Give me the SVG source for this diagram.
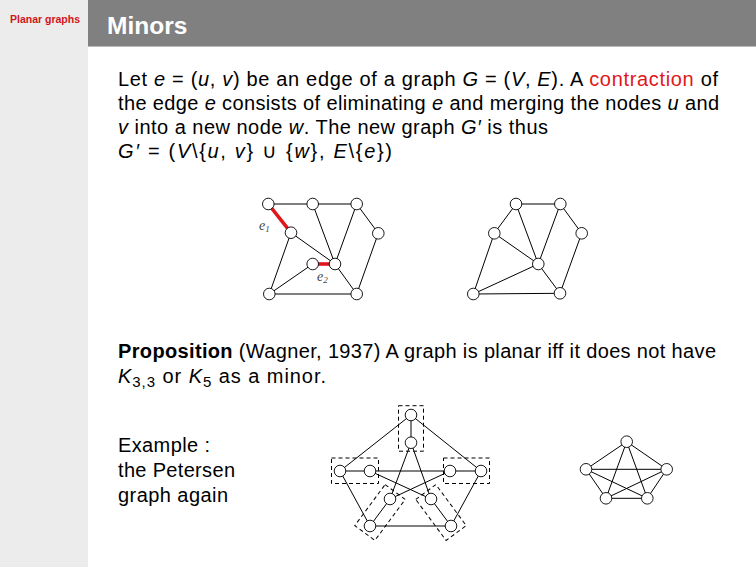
<svg xmlns="http://www.w3.org/2000/svg" width="756" height="567" viewBox="0 0 756 567">
<style>
.t{font-family:"Liberation Sans",Arial,sans-serif;font-size:20px;fill:#000}
.i{font-style:italic}
.red{fill:#e0161b}
.n{fill:#fff;stroke:#000;stroke-width:0.9}
.e{stroke:#000;stroke-width:1;fill:none}
.re{stroke:#e0161b;stroke-width:3.6;fill:none}
.box{fill:none;stroke:#000;stroke-width:1;stroke-dasharray:4,3}
.lab{font-family:"Liberation Serif","DejaVu Serif",serif;font-style:italic;font-size:14px;fill:#444}
</style>
<rect x="0" y="0" width="756" height="567" fill="#fff"/>
<rect x="0" y="0" width="88" height="567" fill="#ececec"/>
<rect x="88" y="0" width="668" height="46" fill="#808080"/>
<rect x="88" y="46" width="668" height="1" fill="#bbb"/>
<text x="10" y="22.5" font-family="Liberation Sans,Arial,sans-serif" font-weight="bold" font-size="10.5" fill="#d0161b">Planar graphs</text>
<text x="107" y="34" font-family="Liberation Sans,Arial,sans-serif" font-weight="bold" font-size="24.5" fill="#fff">Minors</text>

<g id="text-definition">
<text class="t" x="118" y="85.7" textLength="600" lengthAdjust="spacing">Let <tspan class="i">e</tspan> = (<tspan class="i">u</tspan>, <tspan class="i">v</tspan>) be an edge of a graph <tspan class="i">G</tspan> = (<tspan class="i">V</tspan>, <tspan class="i">E</tspan>). A <tspan class="red">contraction</tspan> of</text>
<text class="t" x="118" y="110" textLength="601" lengthAdjust="spacing">the edge <tspan class="i">e</tspan> consists of eliminating <tspan class="i">e</tspan> and merging the nodes <tspan class="i">u</tspan> and</text>
<text class="t" x="118" y="134" textLength="430" lengthAdjust="spacing"><tspan class="i">v</tspan> into a new node <tspan class="i">w</tspan>. The new graph <tspan class="i">G′</tspan> is thus</text>
<text class="t" x="118" y="158.3" textLength="274" lengthAdjust="spacing"><tspan class="i">G′</tspan> = (<tspan class="i">V</tspan>\{<tspan class="i">u</tspan>, <tspan class="i">v</tspan>} ∪ {<tspan class="i">w</tspan>}, <tspan class="i">E</tspan>\{<tspan class="i">e</tspan>})</text>
</g>

<g id="connectors">
<!-- graph 1 -->
<line class="e" x1="268.3" y1="204" x2="312.7" y2="204"/>
<line class="e" x1="312.7" y1="204" x2="356.7" y2="204"/>
<line class="e" x1="356.7" y1="204" x2="378.3" y2="233.3"/>
<line class="e" x1="378.3" y1="233.3" x2="356.7" y2="294"/>
<line class="e" x1="312.7" y1="204" x2="335" y2="264"/>
<line class="e" x1="356.7" y1="204" x2="335" y2="264"/>
<line class="e" x1="291" y1="232.7" x2="335" y2="264"/>
<line class="e" x1="291" y1="232.7" x2="269.3" y2="294"/>
<line class="e" x1="269.3" y1="294" x2="312.7" y2="264"/>
<line class="e" x1="335" y1="264" x2="356.7" y2="294"/>
<line class="e" x1="269.3" y1="294" x2="356.7" y2="294"/>
<line class="re" x1="268.3" y1="204" x2="291" y2="232.7"/>
<line class="re" x1="312.7" y1="264" x2="335" y2="264"/>
<!-- graph 2 -->
<line class="e" x1="516" y1="204" x2="560.3" y2="204"/>
<line class="e" x1="516" y1="204" x2="494.3" y2="233.3"/>
<line class="e" x1="516" y1="204" x2="538.3" y2="264"/>
<line class="e" x1="560.3" y1="204" x2="538.3" y2="264"/>
<line class="e" x1="560.3" y1="204" x2="581.7" y2="233.3"/>
<line class="e" x1="581.7" y1="233.3" x2="560" y2="293.3"/>
<line class="e" x1="494.3" y1="233.3" x2="538.3" y2="264"/>
<line class="e" x1="494.3" y1="233.3" x2="473.3" y2="294"/>
<line class="e" x1="473.3" y1="294" x2="538.3" y2="264"/>
<line class="e" x1="473.3" y1="294" x2="560" y2="293.3"/>
<line class="e" x1="538.3" y1="264" x2="560" y2="293.3"/>
<!-- Petersen -->
<line class="e" x1="411" y1="415" x2="340" y2="471"/>
<line class="e" x1="411" y1="415" x2="481" y2="471"/>
<line class="e" x1="340" y1="471" x2="370" y2="526"/>
<line class="e" x1="481" y1="471" x2="451" y2="526"/>
<line class="e" x1="370" y1="526" x2="451" y2="526"/>
<line class="e" x1="411" y1="415" x2="411" y2="442.7"/>
<line class="e" x1="340" y1="471" x2="370" y2="471"/>
<line class="e" x1="481" y1="471" x2="450" y2="471"/>
<line class="e" x1="370" y1="526" x2="390" y2="499"/>
<line class="e" x1="451" y1="526" x2="431" y2="499"/>
<line class="e" x1="411" y1="442.7" x2="390" y2="499"/>
<line class="e" x1="411" y1="442.7" x2="431" y2="499"/>
<line class="e" x1="370" y1="471" x2="450" y2="471"/>
<line class="e" x1="370" y1="471" x2="431" y2="499"/>
<line class="e" x1="450" y1="471" x2="390" y2="499"/>
<!-- K5 -->
<line class="e" x1="626.7" y1="441.7" x2="586" y2="469.3"/>
<line class="e" x1="626.7" y1="441.7" x2="666.7" y2="469.3"/>
<line class="e" x1="626.7" y1="441.7" x2="606" y2="498.3"/>
<line class="e" x1="626.7" y1="441.7" x2="647.3" y2="498.3"/>
<line class="e" x1="586" y1="469.3" x2="666.7" y2="469.3"/>
<line class="e" x1="586" y1="469.3" x2="606" y2="498.3"/>
<line class="e" x1="586" y1="469.3" x2="647.3" y2="498.3"/>
<line class="e" x1="666.7" y1="469.3" x2="606" y2="498.3"/>
<line class="e" x1="666.7" y1="469.3" x2="647.3" y2="498.3"/>
<line class="e" x1="606" y1="498.3" x2="647.3" y2="498.3"/>
</g>

<g id="graph1-nodes">
<circle class="n" cx="268.3" cy="204" r="5.8"/>
<circle class="n" cx="312.7" cy="204" r="5.8"/>
<circle class="n" cx="356.7" cy="204" r="5.8"/>
<circle class="n" cx="378.3" cy="233.3" r="5.8"/>
<circle class="n" cx="291" cy="232.7" r="5.8"/>
<circle class="n" cx="312.7" cy="264" r="5.8"/>
<circle class="n" cx="335" cy="264" r="5.8"/>
<circle class="n" cx="269.3" cy="294" r="5.8"/>
<circle class="n" cx="356.7" cy="294" r="5.8"/>
<text class="lab" x="259" y="230">e<tspan font-size="9" dy="2">1</tspan></text>
<text class="lab" x="317" y="281">e<tspan font-size="9" dy="2">2</tspan></text>
</g>

<g id="graph2-nodes">
<circle class="n" cx="516" cy="204" r="5.8"/>
<circle class="n" cx="560.3" cy="204" r="5.8"/>
<circle class="n" cx="494.3" cy="233.3" r="5.8"/>
<circle class="n" cx="581.7" cy="233.3" r="5.8"/>
<circle class="n" cx="538.3" cy="264" r="5.8"/>
<circle class="n" cx="473.3" cy="294" r="5.8"/>
<circle class="n" cx="560" cy="293.3" r="5.8"/>
</g>

<g id="text-proposition">
<text class="t" x="118" y="358.3" textLength="598" lengthAdjust="spacing"><tspan font-weight="bold">Proposition</tspan> (Wagner, 1937) A graph is planar iff it does not have</text>
<text class="t" x="118" y="383.3" textLength="208" lengthAdjust="spacing"><tspan class="i">K</tspan><tspan font-size="15" dy="4">3,3</tspan><tspan dy="-4"> or </tspan><tspan class="i">K</tspan><tspan font-size="15" dy="4">5</tspan><tspan dy="-4"> as a minor.</tspan></text>
<text class="t" x="118" y="451.7" textLength="92" lengthAdjust="spacing">Example :</text>
<text class="t" x="118" y="476.7" textLength="117" lengthAdjust="spacing">the Petersen</text>
<text class="t" x="118" y="501.7" textLength="110" lengthAdjust="spacing">graph again</text>
</g>

<g id="petersen-nodes">
<rect class="box" x="398.5" y="405.7" width="25" height="45.5"/>
<rect class="box" x="331.5" y="458" width="47" height="25.5"/>
<rect class="box" x="443.5" y="458" width="46" height="25.5"/>
<rect class="box" x="367.5" y="487" width="25" height="51" transform="rotate(36.5 380 512.5)"/>
<rect class="box" x="428.5" y="487" width="25" height="51" transform="rotate(-36.5 441 512.5)"/>
<circle class="n" cx="411" cy="415" r="5.8"/>
<circle class="n" cx="411" cy="442.7" r="5.8"/>
<circle class="n" cx="340" cy="471" r="5.8"/>
<circle class="n" cx="370" cy="471" r="5.8"/>
<circle class="n" cx="450" cy="471" r="5.8"/>
<circle class="n" cx="481" cy="471" r="5.8"/>
<circle class="n" cx="390" cy="499" r="5.8"/>
<circle class="n" cx="431" cy="499" r="5.8"/>
<circle class="n" cx="370" cy="526" r="5.8"/>
<circle class="n" cx="451" cy="526" r="5.8"/>
</g>

<g id="k5-nodes">
<circle class="n" cx="626.7" cy="441.7" r="5.8"/>
<circle class="n" cx="586" cy="469.3" r="5.8"/>
<circle class="n" cx="666.7" cy="469.3" r="5.8"/>
<circle class="n" cx="606" cy="498.3" r="5.8"/>
<circle class="n" cx="647.3" cy="498.3" r="5.8"/>
</g>
</svg>
